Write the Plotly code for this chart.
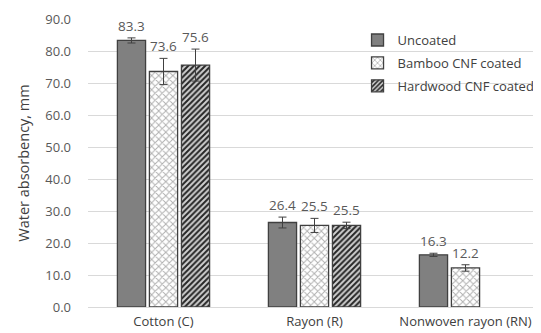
import plotly.graph_objects as go

categories = ["Cotton (C)", "Rayon (R)", "Nonwoven rayon (RN)"]
series_names = ["Uncoated", "Bamboo CNF coated", "Hardwood CNF coated"]
uncoated = [83.3, 26.4, 16.3]
uncoated_err = [0.8, 1.7, 0.5]
bamboo = [73.6, 25.5, 12.2]
bamboo_err = [4.1, 2.2, 1.0]
hardwood = [75.6, 25.5, None]
hardwood_err = [5.0, 1.0, None]
y_ticks = [0, 10, 20, 30, 40, 50, 60, 70, 80, 90]

values = [uncoated, bamboo, hardwood]
errors = [uncoated_err, bamboo_err, hardwood_err]
styles = [
    dict(color="#808080", pattern=dict(shape="")),
    dict(color="white", pattern=dict(shape="x", fgcolor="#b0b0b0", bgcolor="white", size=5, solidity=0.35, fillmode="replace")),
    dict(color="white", pattern=dict(shape="/", fgcolor="#262626", bgcolor="#d0d0d0", size=4, solidity=0.5, fillmode="replace")),
]

FONT = "Open Sans, sans-serif"

fig = go.Figure()
for j in range(3):
    fig.add_trace(go.Bar(
        name=series_names[j], x=categories, y=values[j],
        marker=dict(color=styles[j]["color"], pattern=styles[j]["pattern"],
                    line=dict(color="#404040", width=1.3)),
        error_y=dict(type="data", array=errors[j], color="#404040", thickness=1, width=4),
        legendgroup=str(j),
    ))

slot = 0.212
for j in range(3):
    for i, v in enumerate(values[j]):
        if v is None:
            continue
        fig.add_annotation(x=i + (j - 1) * slot, y=v + errors[j][i], text=f"{v:.1f}",
                           showarrow=False, yanchor="bottom", yshift=1,
                           font=dict(family=FONT, size=13.5, color="#595959"))

fig.update_layout(
    width=541, height=333,
    margin=dict(l=80, r=8, t=11, b=34, autoexpand=False),
    paper_bgcolor="white", plot_bgcolor="white",
    barmode="group", bargap=0.364, bargroupgap=0.12,
    font=dict(family=FONT, size=12, color="#595959"),
    showlegend=True,
    legend=dict(x=0.595, y=0.979, xanchor="left", yanchor="top", bgcolor="rgba(0,0,0,0)",
                itemwidth=30, tracegroupgap=3, traceorder="grouped",
                font=dict(family=FONT, size=13, color="#404040")),
    xaxis=dict(range=[-0.5, 2.5], showgrid=False, showline=True, linecolor="#d9d9d9",
               automargin=False,
               ticks="outside", ticklen=2, tickcolor="rgba(0,0,0,0)",
               tickfont=dict(family=FONT, size=13, color="#404040")),
    yaxis=dict(range=[0, 90], tickvals=y_ticks, ticktext=[f"{t:.1f}" for t in y_ticks],
               automargin=False,
               showgrid=True, gridcolor="#d9d9d9", zeroline=False,
               ticklabelstandoff=16, tickfont=dict(family=FONT, size=13, color="#595959"),
               title=dict(text="Water absorbency, mm", standoff=12,
                          font=dict(family=FONT, size=14.5, color="#404040"))),
)

fig.write_html("out.html")
